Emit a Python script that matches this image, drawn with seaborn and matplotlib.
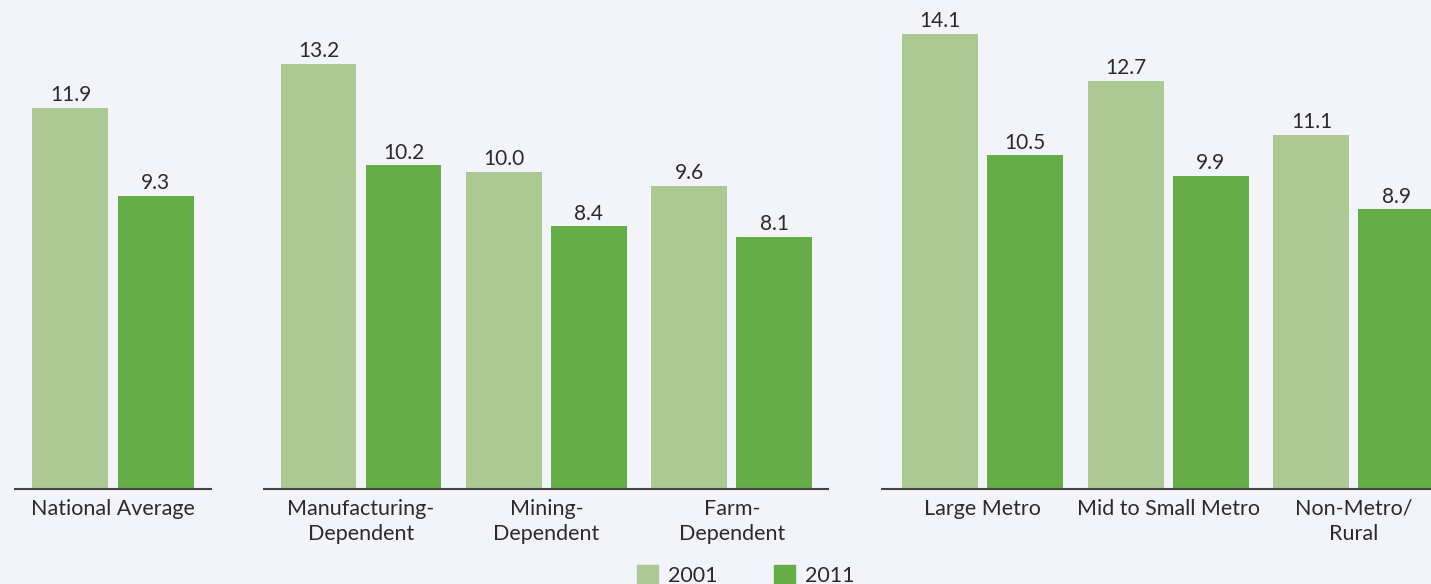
import pandas as pd
import matplotlib.pyplot as plt
import seaborn as sns

# values
years = ['2001', '2011']

national_groups = ['National Average']
national_2001 = [11.9]
national_2011 = [9.3]

industry_groups = ['Manufacturing-\nDependent', 'Mining-\nDependent', 'Farm-\nDependent']
industry_2001 = [13.2, 10.0, 9.6]
industry_2011 = [10.2, 8.4, 8.1]

metro_groups = ['Large Metro', 'Mid to Small Metro', 'Non-Metro/\nRural']
metro_2001 = [14.1, 12.7, 11.1]
metro_2011 = [10.5, 9.9, 8.9]

BG = '#f3f4f9'
TEXT = '#2b2b2b'
palette = {'2001': '#acc994', '2011': '#65ad46'}


def long_form(groups, v2001, v2011):
    return pd.DataFrame({
        'group': groups * 2,
        'year': ['2001'] * len(groups) + ['2011'] * len(groups),
        'value': v2001 + v2011,
    })


sns.set_theme(style='white')
plt.rcParams['font.family'] = ['Lato', 'DejaVu Sans']

fig = plt.figure(figsize=(14.31, 5.84), dpi=100, facecolor=BG)
W, H = 1431, 584
bottom = (H - 489) / H
height = 489 / H

panels = [
    (long_form(national_groups, national_2001, national_2011), 15, 211, (-0.528, 0.528)),
    (long_form(industry_groups, industry_2001, industry_2011), 264, 828, (-0.523, 2.518)),
    (long_form(metro_groups, metro_2001, metro_2011), 882, 1431, (-0.542, 2.415)),
]

for df, x0, x1, xlim in panels:
    ax = fig.add_axes([x0 / W, bottom, (x1 - x0) / W, height])
    ax.set_facecolor(BG)
    sns.barplot(data=df, x='group', y='value', hue='year', hue_order=years,
                palette=palette, saturation=1, width=0.9164, gap=0.106,
                legend=False, ax=ax)
    for c in ax.containers:
        ax.bar_label(c, fmt='%.1f', padding=2, fontsize=15, color=TEXT)
    ax.set_xlim(*xlim)
    ax.set_ylim(0.64, 15.09)
    ax.set_xlabel('')
    ax.set_ylabel('')
    ax.set_yticks([])
    ax.tick_params(axis='x', length=0, pad=7, labelsize=15.5, labelcolor=TEXT)
    for t in ax.get_xticklabels():
        t.set_linespacing(1.35)
    for s in ['top', 'left', 'right']:
        ax.spines[s].set_visible(False)
    ax.spines['bottom'].set_color('#444444')
    ax.spines['bottom'].set_linewidth(1.5)
    for b in ax.patches:
        b.set_edgecolor('none')

handles = [plt.Rectangle((0, 0), 1, 1, color=palette[y]) for y in years]
fig.legend(handles, years, loc='center', bbox_to_anchor=(0.521, 0.015), ncol=2,
           frameon=False, fontsize=15.5, handlelength=1.0, handleheight=1.0,
           columnspacing=2.6, handletextpad=0.45, labelcolor=TEXT)

fig.savefig('out.png', dpi=100, facecolor=BG)
